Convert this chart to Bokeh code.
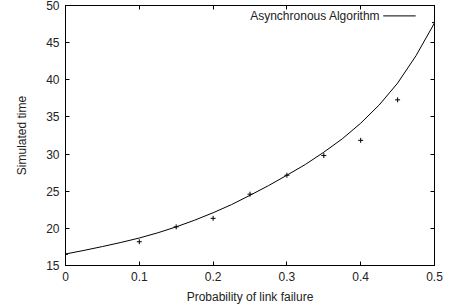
from bokeh.plotting import figure
from bokeh.models import LinearAxis, Range1d, Label, Arrow, FixedTicker, ColumnDataSource
from bokeh.embed import file_html
from bokeh.resources import INLINE

# Fitted curve
curve_x = [0.0, 0.025, 0.05, 0.075, 0.1, 0.125, 0.15, 0.175, 0.2, 0.225, 0.25,
           0.275, 0.3, 0.325, 0.35, 0.375, 0.4, 0.425, 0.45, 0.475, 0.5]
curve_y = [16.55, 17.03, 17.55, 18.1, 18.7, 19.4, 20.2, 21.1, 22.1, 23.2, 24.45,
           25.75, 27.15, 28.6, 30.25, 32.05, 34.15, 36.6, 39.55, 43.25, 47.65]

# Measured points
pts_x = [0.0, 0.1, 0.15, 0.2, 0.25, 0.3, 0.35, 0.4, 0.45, 0.5]
pts_y = [16.5, 18.2, 20.2, 21.35, 24.6, 27.15, 29.8, 31.85, 37.3, 47.7]

x_ticks = [0, 0.1, 0.2, 0.3, 0.4, 0.5]
y_ticks = [15, 20, 25, 30, 35, 40, 45, 50]
legend_label = "Asynchronous Algorithm"

FONT = "Liberation Sans"
FS = "12px"

p = figure(width=455, height=306, x_range=Range1d(0, 0.5), y_range=Range1d(15, 50),
           output_backend="svg", toolbar_location=None,
           min_border_left=65, min_border_right=21, min_border_top=5, min_border_bottom=41,
           x_axis_label="Probability of link failure", y_axis_label="Simulated time")
p.xgrid.visible = False
p.ygrid.visible = False
p.outline_line_color = "black"
p.outline_line_width = 1
p.background_fill_color = "white"
p.border_fill_color = "white"

src_c = ColumnDataSource(dict(x=curve_x, y=curve_y))
src_p = ColumnDataSource(dict(x=pts_x, y=pts_y))
p.line("x", "y", source=src_c, line_color="black", line_width=1)
p.scatter("x", "y", source=src_p, marker="cross", size=5, line_color="black", line_width=1)

# extra mirrored axes
top = LinearAxis()
right = LinearAxis()
p.add_layout(top, "above")
p.add_layout(right, "right")

for ax in p.xaxis + p.yaxis:
    ax.axis_line_color = "black"
    ax.major_tick_in = 4
    ax.major_tick_out = 0
    ax.minor_tick_line_color = None
    ax.major_tick_line_color = "black"
    ax.major_label_text_font = FONT
    ax.major_label_text_font_size = FS
    ax.major_label_text_color = "#222222"
    ax.axis_label_text_font = FONT
    ax.axis_label_text_font_size = FS
    ax.axis_label_text_font_style = "normal"
    ax.axis_label_text_color = "#222222"

p.xaxis.ticker = FixedTicker(ticks=x_ticks)
p.yaxis.ticker = FixedTicker(ticks=y_ticks)

p.below[0].major_label_standoff = 6
p.below[0].axis_label_standoff = 6
p.left[0].major_label_standoff = 6
p.left[0].axis_label_standoff = 14

top.major_label_text_font_size = "0px"
top.major_label_text_color = None
top.major_label_standoff = 0
right.major_label_text_font_size = "0px"
right.major_label_text_color = None
right.major_label_standoff = 0

# gnuplot-style key: text then line sample
p.add_layout(Label(x=0.4265, y=48.6, text=legend_label, text_align="right",
                   text_baseline="middle", text_font=FONT, text_font_size=FS,
                   text_color="#222222"))
p.add_layout(Arrow(x_start=0.4305, y_start=48.6, x_end=0.4745, y_end=48.6,
                   end=None, line_color="black", line_width=1))

open("out.html", "w").write(file_html(p, INLINE))
